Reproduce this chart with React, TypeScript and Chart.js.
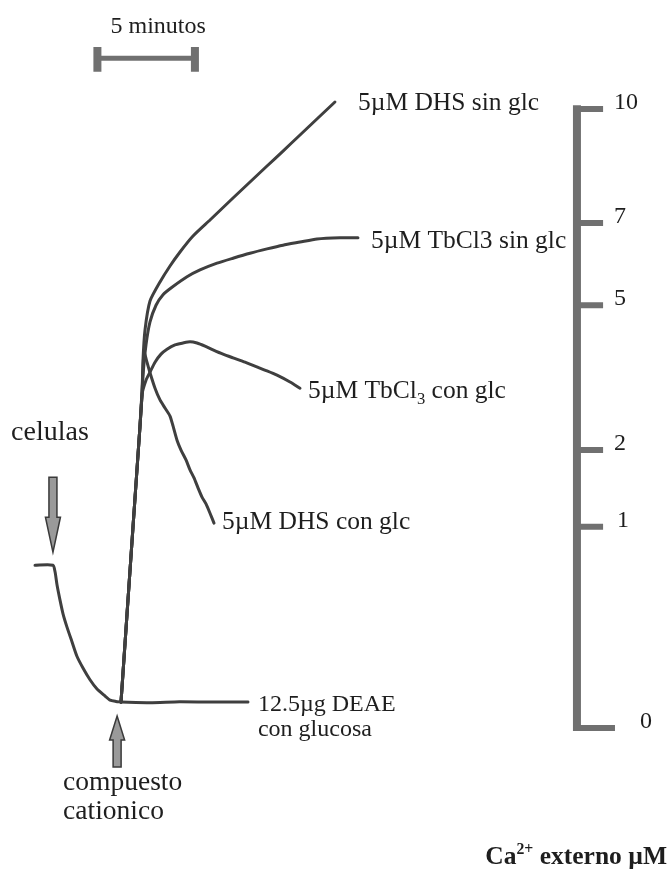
import { useEffect, useRef } from "react";
import { Chart, registerables } from "chart.js";

Chart.register(...registerables);

// Time in minutes from the addition of the cationic compound (t = 0).
// Signal in % of the 10 µM Ca2+ calibration step.

const cellsTime = [-4.41, -3.49, -3.38, -3.28, -3.13, -2.97, -2.77, -2.51, -2.26, -1.95, -1.59, -1.23, -0.87, -0.56, -0.26, 0];
const cellsSignal = [26.3, 26.3, 25.2, 23.1, 20.7, 18.4, 16.3, 13.9, 11.6, 9.7, 7.8, 6.3, 5.3, 4.5, 4.3, 4.2];

const deaeTime = [0, 1.5, 3, 4.5, 6.51];
const deaeSignal = [4.2, 4.1, 4.25, 4.2, 4.2];

const dhsSinTime = [0, 0.615, 0.97, 1.077, 1.128, 1.231, 1.487, 2.0, 2.513, 3.026, 3.692, 4.564, 5.744, 6.615, 7.487, 8.308, 9.179, 10.1, 10.97];
const dhsSinSignal = [4.2, 32.5, 48.6, 53.9, 59.45, 64.3, 68.98, 72.05, 74.64, 76.9, 79.48, 82.07, 85.62, 88.21, 90.79, 93.21, 95.8, 98.55, 101.13];

const tbSinTime = [0, 0.615, 0.97, 1.077, 1.128, 1.282, 1.487, 1.795, 2.154, 2.615, 3.385, 4.051, 4.923, 5.744, 6.615, 7.487, 8.308, 9.179, 10.05, 11.23, 12.15];
const tbSinSignal = [4.2, 32.5, 48.6, 53.9, 57.0, 61.9, 65.6, 68.3, 70.0, 71.2, 72.9, 74.0, 75.1, 75.9, 76.7, 77.4, 78.0, 78.5, 79.0, 79.2, 79.2];

const tbConTime = [0, 0.615, 0.97, 1.077, 1.282, 1.487, 1.744, 2.051, 2.359, 2.769, 3.179, 3.538, 3.897, 4.308, 4.718, 5.231, 5.744, 6.359, 7.0, 7.487, 8.0, 8.667, 9.179];
const tbConSignal = [4.2, 32.5, 48.6, 53.9, 56.2, 57.5, 59.1, 60.4, 61.2, 61.9, 62.2, 62.4, 62.2, 61.7, 61.1, 60.4, 59.8, 59.1, 58.3, 57.7, 57.0, 55.9, 54.9];

const dhsConTime = [0, 0.615, 0.97, 1.077, 1.179, 1.333, 1.487, 1.744, 2.0, 2.256, 2.513, 2.667, 2.872, 3.077, 3.333, 3.538, 3.744, 3.949, 4.154, 4.359, 4.564, 4.769];
const dhsConSignal = [4.2, 32.5, 48.6, 53.9, 60.7, 59.1, 57.4, 54.9, 53.0, 51.7, 50.4, 48.8, 46.5, 44.9, 43.3, 41.7, 40.4, 38.8, 37.3, 36.2, 34.7, 33.1];

// Ca2+ calibration (µM) and the signal level of each step
const caLevels = ["0", "1", "2", "5", "7", "10"];
const caLevelSignal = [0, 32.5, 44.9, 68.3, 81.6, 100];

// time scale bar
const scaleBarStart = -1.21;
const scaleBarMinutes = 5;

// additions
const cellsAdditionTime = -3.49;
const compoundAdditionTime = -0.2;

const T_MIN = -6.205;
const T_MAX = 28.1;
const S_MIN = -23.42;
const S_MAX = 117.61;

const SERIF = '"Liberation Serif", "Times New Roman", Times, serif';
const INK = "#1e1e1e";
const TRACE = "#3f3f3f";
const GREY = "#707070";
const LABEL_SIZE = 25.5;
const NOTE_SIZE = 24;
const ADD_SIZE = 28;

type Pt = { x: number; y: number | null };
const pts = (ts: number[], ss: number[]): Pt[] => ts.map((t, i) => ({ x: t, y: ss[i] }));
const last = (a: number[]) => a[a.length - 1];

const traceDataset = (label: string, ts: number[], ss: number[]) => ({
  label,
  data: pts(ts, ss),
  borderColor: TRACE,
  borderWidth: 3,
  pointRadius: 0,
  tension: 0.2,
  borderCapStyle: "round",
  borderJoinStyle: "round",
  fill: false,
});

const CA_BAR_T = 23.38;
const CA_TICK_END = 24.72;
const CA_ZERO_TICK_END = 25.33;

type Run = { s: string; shift?: number; scale?: number };

function drawRuns(
  ctx: CanvasRenderingContext2D,
  runs: Run[],
  x: number,
  y: number,
  size: number,
  weight = "normal",
  align: "left" | "center" | "right" = "left"
) {
  const fontFor = (r: Run) => `${weight} ${(size * (r.scale ?? 1)).toFixed(1)}px ${SERIF}`;
  const widths = runs.map((r) => {
    ctx.font = fontFor(r);
    return ctx.measureText(r.s).width;
  });
  const total = widths.reduce((a, b) => a + b, 0);
  let cx = align === "center" ? x - total / 2 : align === "right" ? x - total : x;
  ctx.textAlign = "left";
  ctx.textBaseline = "alphabetic";
  ctx.fillStyle = INK;
  runs.forEach((r, i) => {
    ctx.font = fontFor(r);
    ctx.fillText(r.s, cx, y + (r.shift ?? 0) * size);
    cx += widths[i];
  });
}

function drawArrow(
  ctx: CanvasRenderingContext2D,
  tipX: number,
  tipY: number,
  dir: 1 | -1,
  length: number,
  headLen: number,
  headW: number,
  shaftW: number
) {
  // dir = 1 points down, dir = -1 points up
  const baseY = tipY - dir * headLen;
  const endY = tipY - dir * length;
  ctx.beginPath();
  ctx.moveTo(tipX, tipY);
  ctx.lineTo(tipX + headW / 2, baseY);
  ctx.lineTo(tipX + shaftW / 2, baseY);
  ctx.lineTo(tipX + shaftW / 2, endY);
  ctx.lineTo(tipX - shaftW / 2, endY);
  ctx.lineTo(tipX - shaftW / 2, baseY);
  ctx.lineTo(tipX - headW / 2, baseY);
  ctx.closePath();
  ctx.fillStyle = "#9a9a9a";
  ctx.fill();
  ctx.lineWidth = 1.5;
  ctx.strokeStyle = "#3a3a3a";
  ctx.stroke();
}

const annotationPlugin = {
  id: "figureAnnotations",
  afterDatasetsDraw(chart: any) {
    const ctx: CanvasRenderingContext2D = chart.ctx;
    const X = chart.scales.x;
    const Y = chart.scales.y;
    const px = (t: number) => X.getPixelForValue(t);
    const py = (s: number) => Y.getPixelForValue(s);
    ctx.save();

    // trace labels, next to the end of each trace
    const endLabel = (runs: Run[], ts: number[], ss: number[], dx: number, dy: number, size: number) =>
      drawRuns(ctx, runs, px(last(ts)) + dx, py(last(ss)) + dy, size);
    endLabel([{ s: "5µM DHS sin glc" }], dhsSinTime, dhsSinSignal, 23, 8, LABEL_SIZE);
    endLabel([{ s: "5µM TbCl3 sin glc" }], tbSinTime, tbSinSignal, 13, 10, LABEL_SIZE);
    endLabel(
      [{ s: "5µM TbCl" }, { s: "3", scale: 0.65, shift: 0.22 }, { s: " con glc" }],
      tbConTime,
      tbConSignal,
      8,
      10,
      LABEL_SIZE
    );
    endLabel([{ s: "5µM DHS con glc" }], dhsConTime, dhsConSignal, 8, 6, LABEL_SIZE);
    endLabel([{ s: "12.5µg DEAE" }], deaeTime, deaeSignal, 10, 9, NOTE_SIZE);
    endLabel([{ s: "con glucosa" }], deaeTime, deaeSignal, 10, 34, NOTE_SIZE);

    // time scale
    drawRuns(ctx, [{ s: "5 minutos" }], px(scaleBarStart + scaleBarMinutes / 2) + 12, py(112.28), NOTE_SIZE, "normal", "center");

    // additions
    drawRuns(ctx, [{ s: "celulas" }], px(cellsAdditionTime) - 3, py(46.53), ADD_SIZE, "normal", "center");
    drawArrow(ctx, px(cellsAdditionTime), py(28.4), 1, 75, 35, 15, 8);
    drawArrow(ctx, px(compoundAdditionTime), py(1.94), -1, 51, 24, 15, 8);
    drawRuns(ctx, [{ s: "compuesto" }], px(compoundAdditionTime) - 54, py(-10.02), 27.5);
    drawRuns(ctx, [{ s: "cationico" }], px(compoundAdditionTime) - 54, py(-14.7), 27.5);

    // calibration labels
    caLevels.forEach((lab, i) => {
      const endT = i === 0 ? CA_ZERO_TICK_END : CA_TICK_END;
      const dx = i === 0 ? 25 : lab === "1" ? 14 : 11;
      drawRuns(ctx, [{ s: lab }], px(endT) + dx, py(caLevelSignal[i]), NOTE_SIZE);
    });
    drawRuns(
      ctx,
      [{ s: "Ca" }, { s: "2+", scale: 0.62, shift: -0.38 }, { s: " externo µM" }],
      px(T_MAX) - 2,
      py(-21.97),
      25.5,
      "bold",
      "right"
    );

    ctx.restore();
  },
};

export default function App() {
  const ref = useRef<HTMLCanvasElement | null>(null);

  useEffect(() => {
    if (!ref.current) return;

    const tickData: Pt[] = caLevelSignal.flatMap((s, i) => [
      { x: i === 0 || i === caLevelSignal.length - 1 ? CA_BAR_T - 0.2 : CA_BAR_T, y: s },
      { x: i === 0 ? CA_ZERO_TICK_END : CA_TICK_END, y: s },
      { x: CA_BAR_T, y: null },
    ]);

    const barEnd = scaleBarStart + scaleBarMinutes;
    const capData: Pt[] = [
      { x: scaleBarStart, y: 106.0 },
      { x: scaleBarStart, y: 110.0 },
      { x: scaleBarStart, y: null },
      { x: barEnd, y: 106.0 },
      { x: barEnd, y: 110.0 },
    ];

    const chart = new Chart(ref.current, {
      type: "line",
      data: {
        datasets: [
          traceDataset("celulas", cellsTime, cellsSignal),
          traceDataset("12.5µg DEAE con glucosa", deaeTime, deaeSignal),
          traceDataset("5µM DHS sin glc", dhsSinTime, dhsSinSignal),
          traceDataset("5µM TbCl3 sin glc", tbSinTime, tbSinSignal),
          traceDataset("5µM TbCl3 con glc", tbConTime, tbConSignal),
          traceDataset("5µM DHS con glc", dhsConTime, dhsConSignal),
          {
            label: "Ca2+ scale",
            data: [
              { x: CA_BAR_T, y: -0.5 },
              { x: CA_BAR_T, y: 100.6 },
            ],
            borderColor: GREY,
            borderWidth: 8,
            pointRadius: 0,
            tension: 0,
          },
          {
            label: "Ca2+ steps",
            data: tickData,
            borderColor: GREY,
            borderWidth: 6,
            pointRadius: 0,
            tension: 0,
            spanGaps: false,
          },
          {
            label: "5 minutos",
            data: [
              { x: scaleBarStart, y: 108.2 },
              { x: barEnd, y: 108.2 },
            ],
            borderColor: GREY,
            borderWidth: 5,
            pointRadius: 0,
            tension: 0,
          },
          {
            label: "5 minutos caps",
            data: capData,
            borderColor: GREY,
            borderWidth: 8,
            pointRadius: 0,
            tension: 0,
            spanGaps: false,
          },
        ] as any,
      },
      options: {
        animation: false,
        responsive: false,
        events: [],
        layout: { padding: 0 },
        scales: {
          x: { type: "linear", min: T_MIN, max: T_MAX, display: false },
          y: { type: "linear", min: S_MIN, max: S_MAX, display: false },
        },
        plugins: {
          legend: { display: false },
          tooltip: { enabled: false },
        },
      },
      plugins: [annotationPlugin],
    });

    return () => chart.destroy();
  }, []);

  return (
    <div style={{ position: "fixed", left: 0, top: 0, width: 669, height: 873, background: "#ffffff" }}>
      <canvas ref={ref} width={669} height={873} style={{ display: "block" }} />
    </div>
  );
}
